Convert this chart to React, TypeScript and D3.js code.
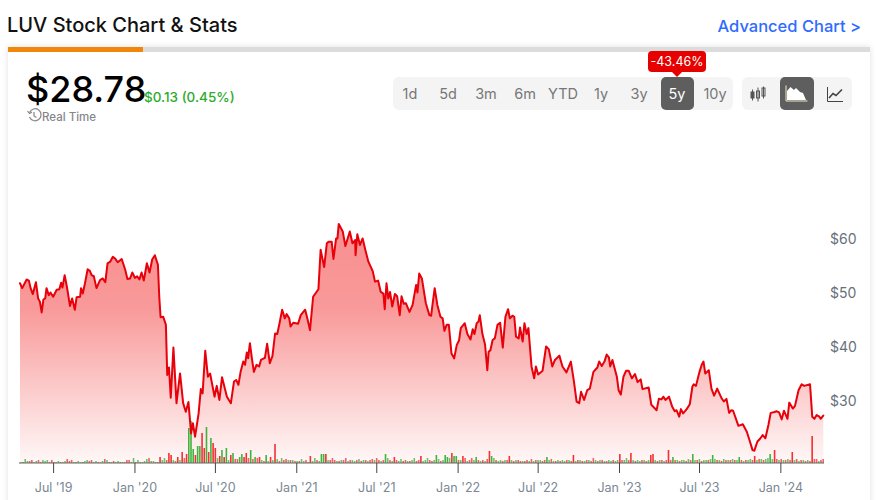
import * as d3 from 'd3';

const WIDTH = 877;
const HEIGHT = 500;
const FONT = 'Inter, "Noto Sans", sans-serif';
const BASE_Y = 463;
const VOLUME_TOP = 421;

const rangeLabels = ['1d', '5d', '3m', '6m', 'YTD', '1y', '3y', '5y', '10y'];
const rangeCenters = [410, 448, 486, 525, 563, 601, 639, 677, 715];
const priceTicks = [60, 50, 40, 30];
const dateTicks = ['2019-07-01', '2020-01-01', '2020-07-01', '2021-01-01', '2021-07-01', '2022-01-01', '2022-07-01', '2023-01-01', '2023-07-01', '2024-01-01'];
const dateLabels = ["Jul '19", "Jan '20", "Jul '20", "Jan '21", "Jul '21", "Jan '22", "Jul '22", "Jan '23", "Jul '23", "Jan '24"];

// days counted from the first session on the chart
const FIRST_DAY = new Date(Date.UTC(2019, 3, 16));
const LAST_DAY_OFFSET = 1817;
const VOLUME_STEP_DAYS = 5;

const priceDays = [
  0, 5, 15, 20, 24, 29, 36, 41, 45, 49, 53, 57, 60, 65, 69, 75, 83, 89, 93, 96, 101, 106, 113, 118, 124, 128, 136, 138, 142, 147,
  153, 158, 162, 167, 173, 181, 187, 193, 198, 204, 210, 215, 221, 230, 238, 243, 249, 254, 260, 265, 270, 275, 280, 287, 293, 299, 305, 312, 315, 318,
  324, 330, 333, 337, 341, 347, 354, 362, 369, 375, 381, 387, 391, 396, 404, 409, 413, 419, 425, 430, 440, 445, 451, 457, 468, 477, 484, 489, 494, 499,
  505, 509, 513, 516, 520, 525, 529, 535, 541, 545, 554, 559, 565, 571, 577, 582, 587, 593, 599, 603, 609, 612, 618, 624, 629, 635, 645, 650, 656, 663,
  675, 680, 688, 694, 698, 705, 709, 715, 718, 721, 730, 736, 746, 752, 758, 759, 763, 769, 775, 782, 788, 798, 803, 810, 816, 822, 825, 829, 833, 837,
  842, 848, 853, 859, 863, 868, 873, 881, 888, 896, 899, 903, 909, 918, 926, 930, 933, 938, 944, 951, 956, 960, 965, 970, 976, 982, 988, 993, 997, 1006,
  1012, 1019, 1024, 1028, 1033, 1037, 1040, 1046, 1052, 1057, 1060, 1064, 1069, 1074, 1080, 1086, 1092, 1098, 1104, 1108, 1114, 1118, 1122, 1128, 1131, 1137, 1141, 1146, 1150, 1157,
  1163, 1167, 1172, 1182, 1190, 1196, 1204, 1210, 1220, 1227, 1236, 1246, 1253, 1259, 1265, 1269, 1276, 1283, 1289, 1297, 1306, 1310, 1316, 1322, 1327, 1332, 1335, 1340, 1350, 1354,
  1359, 1365, 1371, 1377, 1384, 1391, 1397, 1404, 1408, 1422, 1428, 1434, 1440, 1445, 1451, 1455, 1460, 1468, 1475, 1481, 1485, 1491, 1495, 1500, 1508, 1515, 1521, 1524, 1529, 1537,
  1542, 1546, 1550, 1558, 1564, 1570, 1577, 1587, 1592, 1598, 1604, 1609, 1613, 1625, 1635, 1644, 1651, 1657, 1661, 1668, 1674, 1680, 1686, 1693, 1698, 1705, 1711, 1717, 1723, 1728,
  1736, 1740, 1748, 1753, 1761, 1768, 1774, 1787, 1792, 1797, 1802, 1808, 1811, 1817,
];

const closes = [
  51.8, 50.9, 52.5, 52.3, 50.9, 49.8, 52.0, 49.0, 48.4, 46.4, 48.8, 49.0, 50.9, 49.6, 50.1, 49.3, 50.6, 50.7, 51.9, 51.0, 53.3, 51.2, 47.6, 49.0, 46.9, 49.2, 49.3, 50.9, 49.9, 51.8,
  54.4, 54.1, 53.3, 53.1, 50.9, 52.4, 52.7, 52.0, 55.5, 55.8, 56.7, 56.4, 55.7, 56.3, 54.3, 52.6, 52.7, 53.8, 52.8, 53.1, 52.5, 53.8, 52.3, 55.5, 53.8, 56.2, 57.0, 55.2, 49.3, 45.5,
  45.6, 44.1, 34.8, 36.2, 30.6, 39.9, 29.6, 35.1, 29.6, 28.0, 29.8, 24.0, 25.9, 23.4, 27.7, 32.2, 31.4, 39.3, 34.5, 35.1, 30.8, 32.8, 30.2, 34.4, 30.8, 29.6, 33.6, 33.9, 33.0, 35.4,
  37.3, 36.7, 39.0, 37.9, 40.7, 37.6, 35.4, 36.7, 36.4, 37.6, 38.0, 40.6, 37.0, 38.3, 42.5, 42.4, 44.4, 46.9, 45.3, 46.1, 45.3, 43.8, 44.5, 44.4, 44.3, 45.9, 46.9, 45.3, 43.1, 49.3,
  50.7, 58.0, 54.8, 59.2, 59.5, 59.5, 56.3, 60.1, 60.1, 62.8, 61.4, 58.7, 61.4, 59.2, 59.8, 57.0, 60.9, 58.9, 60.1, 57.7, 55.8, 54.0, 52.1, 52.3, 50.2, 49.9, 47.0, 51.8, 49.0, 50.2,
  47.5, 49.8, 49.4, 45.9, 49.4, 48.0, 48.1, 46.5, 47.8, 51.5, 50.1, 53.6, 52.7, 48.1, 45.9, 45.8, 47.8, 50.9, 47.8, 45.6, 45.3, 43.0, 44.1, 44.1, 38.8, 37.9, 40.4, 41.2, 43.5, 44.4,
  42.4, 41.4, 43.3, 42.4, 44.4, 44.7, 45.9, 42.4, 40.4, 35.7, 39.1, 39.4, 41.3, 41.6, 44.1, 44.5, 39.9, 45.6, 47.0, 45.3, 45.8, 45.6, 41.9, 41.6, 43.6, 41.0, 44.4, 42.4, 43.5, 36.4,
  34.2, 36.4, 34.9, 35.6, 40.1, 39.6, 36.4, 37.6, 38.4, 36.4, 35.3, 37.3, 33.6, 29.9, 29.6, 31.7, 30.2, 32.0, 32.3, 35.4, 36.2, 37.3, 36.5, 37.3, 38.6, 38.1, 36.4, 37.6, 34.5, 32.0,
  31.2, 34.5, 35.6, 35.6, 34.2, 35.0, 33.5, 34.0, 32.2, 32.5, 29.3, 28.8, 28.3, 30.4, 30.3, 30.8, 30.2, 30.8, 29.0, 28.1, 28.3, 27.1, 28.5, 27.7, 28.5, 29.4, 32.7, 33.1, 32.8, 35.4,
  36.7, 37.3, 35.1, 35.7, 32.3, 31.0, 32.3, 30.5, 29.9, 30.4, 27.8, 28.3, 28.2, 25.4, 25.7, 24.3, 22.5, 20.9, 20.8, 22.5, 23.0, 23.7, 23.1, 25.6, 27.8, 27.9, 28.1, 27.9, 26.6, 28.2,
  26.7, 29.7, 28.6, 29.1, 32.0, 33.1, 32.8, 33.1, 27.1, 26.7, 27.4, 27.1, 26.7, 27.3,
];

// millions of shares, one bar every VOLUME_STEP_DAYS; up sessions are positive, down sessions negative
const volumes = [
  1, -1, 4, 2, -2, -3, 1, 2, -3, -1, 3, 2, 3, -1, -3, -1, 1, 2, -1, 1,
  2, -4, -2, -3, 1, -1, 2, 1, -1, 2, 3, -2, -3, 1, 2, -1, 1, 2, -4, 3,
  -1, 1, -2, 1, 2, -1, 1, -1, -3, -3, 1, 5, -1, 3, -1, 1, 2, 4, -5, 2,
  2, -1, 1, -6, 3, 5, -3, -10, -8, 3, -2, -6, 3, -11, -5, -9, 35, 42, 14, -8,
  17, 17, -30, -15, 36, -11, 25, -20, -15, 5, -7, 13, -6, 15, 3, -8, 10, -4, -4, 6,
  9, -6, -10, -5, 13, -4, 6, -5, -6, 3, -2, 8, 2, -6, 3, -19, 4, -2, 5, -3,
  -4, 3, -3, 3, -2, 2, -2, 4, 2, -3, 1, -7, 2, 5, -3, 2, 9, 9, -9, 3,
  -3, -5, -3, 2, -2, 3, -3, -5, 2, -3, 3, 2, -3, 4, -2, 3, -3, 2, -3, -4,
  3, -5, -3, 2, -3, 9, 5, -3, 2, -6, -3, 2, 4, -2, -3, 2, -2, 3, 5, -2,
  -3, -7, 2, 3, 5, -3, -2, 3, 8, 4, -2, 3, 8, 6, 5, -10, 7, 7, -3, 3,
  -7, -5, 2, -3, -5, 3, 6, -3, 2, -3, 2, -4, -12, 7, 5, -3, 2, 3, -2, 3,
  -3, -7, 3, -2, 3, -3, -2, 2, -2, -3, 2, -4, 2, -3, 3, 3, -2, -3, 6, 3,
  -4, 2, -2, 3, -2, 3, 2, -3, 3, -2, -8, 2, -3, 3, -2, 2, -3, 3, -2, -5,
  3, -2, 3, -3, 2, -2, 3, 2, -3, 2, 3, -9, -3, 3, 5, -3, -10, 3, -2, 3,
  2, -3, 3, -2, 3, -8, -9, 3, -2, 3, -3, 2, -3, -13, -3, 6, -3, 3, -2, 3,
  3, -2, 4, -3, 9, 3, -3, 4, -2, 3, 3, -3, 4, 8, 4, -3, 3, -2, 4, -3,
  3, -3, 4, -3, 3, 6, -3, 2, -3, 3, 4, -3, -7, 3, -4, 4, -3, 4, 5, 9,
  4, -13, -4, 3, -4, 3, -3, 4, -3, -11, 3, -4, 2, -3, 3, -2, 3, -2, -27, -4,
  -4, 2, -3, -4,
];

const toDate = (offset: number) => d3.utcDay.offset(FIRST_DAY, offset);

const xScale = d3
  .scaleUtc()
  .domain([FIRST_DAY, toDate(LAST_DAY_OFFSET)])
  .range([20, 823.3]);

const yScale = d3.scaleLinear().domain([30, 60]).range([401, 239]);

const volumeScale = d3.scaleLinear().domain([0, 42]).range([BASE_Y, VOLUME_TOP]);

const series = priceDays.map((day, i) => ({ date: toDate(day), close: closes[i] }));

const linePath = d3
  .line<{ date: Date; close: number }>()
  .x((d) => xScale(d.date))
  .y((d) => yScale(d.close))(series) as string;

const areaPath = d3
  .area<{ date: Date; close: number }>()
  .x((d) => xScale(d.date))
  .y0(BASE_Y)
  .y1((d) => yScale(d.close))(series) as string;

const CandleIcon = () => (
  <g stroke="#555" fill="none" strokeWidth={1}>
    <path d="M752.5 89.5v11M758 87.5v14M763.5 86.5v12" />
    <rect x={751} y={92} width={3} height={6} fill="#555" />
    <rect x={756.5} y={91} width={3} height={7} />
    <rect x={762} y={88} width={3} height={8} />
  </g>
);

const AreaIcon = () => (
  <g>
    <path d="M787 100l0-9 3.500-4 3.500 3 2-2 4 4 3 1 3 7z" fill="#fff" />
    <path d="M786 85.500v15.500h21.500" fill="none" stroke="#f2e6c4" strokeWidth={1} />
  </g>
);

const LineIcon = () => (
  <g fill="none" stroke="#444">
    <path d="M827.500 87v14.500h15.500" strokeWidth={1} />
    <path d="M829 98l4-4.500 3 2 6-6" strokeWidth={1.6} />
  </g>
);

export default function App() {
  return (
    <svg
      width={WIDTH}
      height={HEIGHT}
      style={{ position: 'absolute', left: 0, top: 0, display: 'block', fontFamily: FONT }}
    >
      <defs>
        <linearGradient id="areaFill" gradientUnits="userSpaceOnUse" x1={0} x2={0} y1={224} y2={BASE_Y}>
          <stop offset="0%" stopColor="#f00000" stopOpacity={0.44} />
          <stop offset="35%" stopColor="#f00000" stopOpacity={0.4} />
          <stop offset="100%" stopColor="#f00000" stopOpacity={0.03} />
        </linearGradient>
        <filter id="cardShadow" x="-5%" y="-5%" width="110%" height="110%">
          <feDropShadow dx={0} dy={0} stdDeviation={3} floodColor="#000" floodOpacity={0.12} />
        </filter>
      </defs>

      <rect width={WIDTH} height={HEIGHT} fill="#fff" />

      <text x={7} y={32} fontSize={20} fontWeight={500} fill="#111">
        LUV Stock Chart &amp; Stats
      </text>
      <text x={861} y={32} textAnchor="end" fontSize={16.5} fontWeight={500} fill="#2f6bff">
        Advanced Chart &gt;
      </text>

      <rect x={8} y={47} width={862} height={470} fill="#fff" filter="url(#cardShadow)" />
      <rect x={8} y={47} width={862} height={5} fill="#dcdcdc" />
      <rect x={8} y={47} width={135} height={5} fill="#f0860a" />

      <text x={26} y={102} fontSize={36} fontWeight={500} fill="#000">
        $28.78
      </text>
      <text x={144} y={102} fontSize={13.5} fontWeight={500} fill="#2cab2c">
        $0.13 (0.45%)
      </text>
      <g fill="none" stroke="#85858c" strokeWidth={1.2}>
        <path d="M29.500 112.500a6 6 0 1 1 0 4.500" />
        <path d="M27.500 111l2 2.500 2.500-1.500" />
        <path d="M34 112v4l2.500 1.500" />
      </g>
      <text x={42} y={121} fontSize={11.5} fontWeight={500} fill="#85858c">
        Real Time
      </text>

      <rect x={393} y={77} width={340} height={33} rx={6} fill="#f4f4f4" />
      <rect x={661} y={77} width={33} height={33} rx={5} fill="#5e5e5e" />
      {rangeLabels.map((label, i) => (
        <text
          key={label}
          x={rangeCenters[i]}
          y={99}
          textAnchor="middle"
          fontSize={14.5}
          fill={label === '5y' ? '#fff' : '#777'}
        >
          {label}
        </text>
      ))}

      <rect x={742} y={77} width={110} height={33} rx={6} fill="#f4f4f4" />
      <rect x={780} y={77} width={34} height={33} rx={5} fill="#5e5e5e" />
      <CandleIcon />
      <AreaIcon />
      <LineIcon />

      <rect x={648} y={51} width={58} height={21} rx={4} fill="#e60000" />
      <path d="M672 72h10l-5 5z" fill="#e60000" />
      <text x={677} y={65.500} textAnchor="middle" fontSize={12.5} fill="#fff">
        -43.46%
      </text>

      <path d={areaPath} fill="url(#areaFill)" />

      {volumes.map((v, i) => (
        <rect
          key={i}
          x={xScale(toDate(i * VOLUME_STEP_DAYS))}
          y={volumeScale(Math.abs(v))}
          width={1.6}
          height={BASE_Y - volumeScale(Math.abs(v))}
          fill={v > 0 ? '#1fa81f' : '#f01010'}
          fillOpacity={Math.abs(v) > 5 ? 0.85 : 0.65}
        />
      ))}

      <path d={linePath} fill="none" stroke="#e8000a" strokeWidth={2} strokeLinejoin="round" strokeLinecap="round" />

      <line x1={19} x2={824} y1={BASE_Y} y2={BASE_Y} stroke="#666" strokeWidth={1.2} />
      {dateTicks.map((tick, i) => {
        const x = xScale(new Date(tick));
        return (
          <g key={tick}>
            <line x1={x} x2={x} y1={BASE_Y} y2={BASE_Y + 10} stroke="#444" strokeWidth={1} />
            <text x={x} y={492} textAnchor="middle" fontSize={12.5} fill="#7b8794">
              {dateLabels[i]}
            </text>
          </g>
        );
      })}

      {priceTicks.map((tick) => (
        <text key={tick} x={830} y={yScale(tick) + 5} fontSize={14} fill="#68707a">
          ${tick}
        </text>
      ))}
    </svg>
  );
}
